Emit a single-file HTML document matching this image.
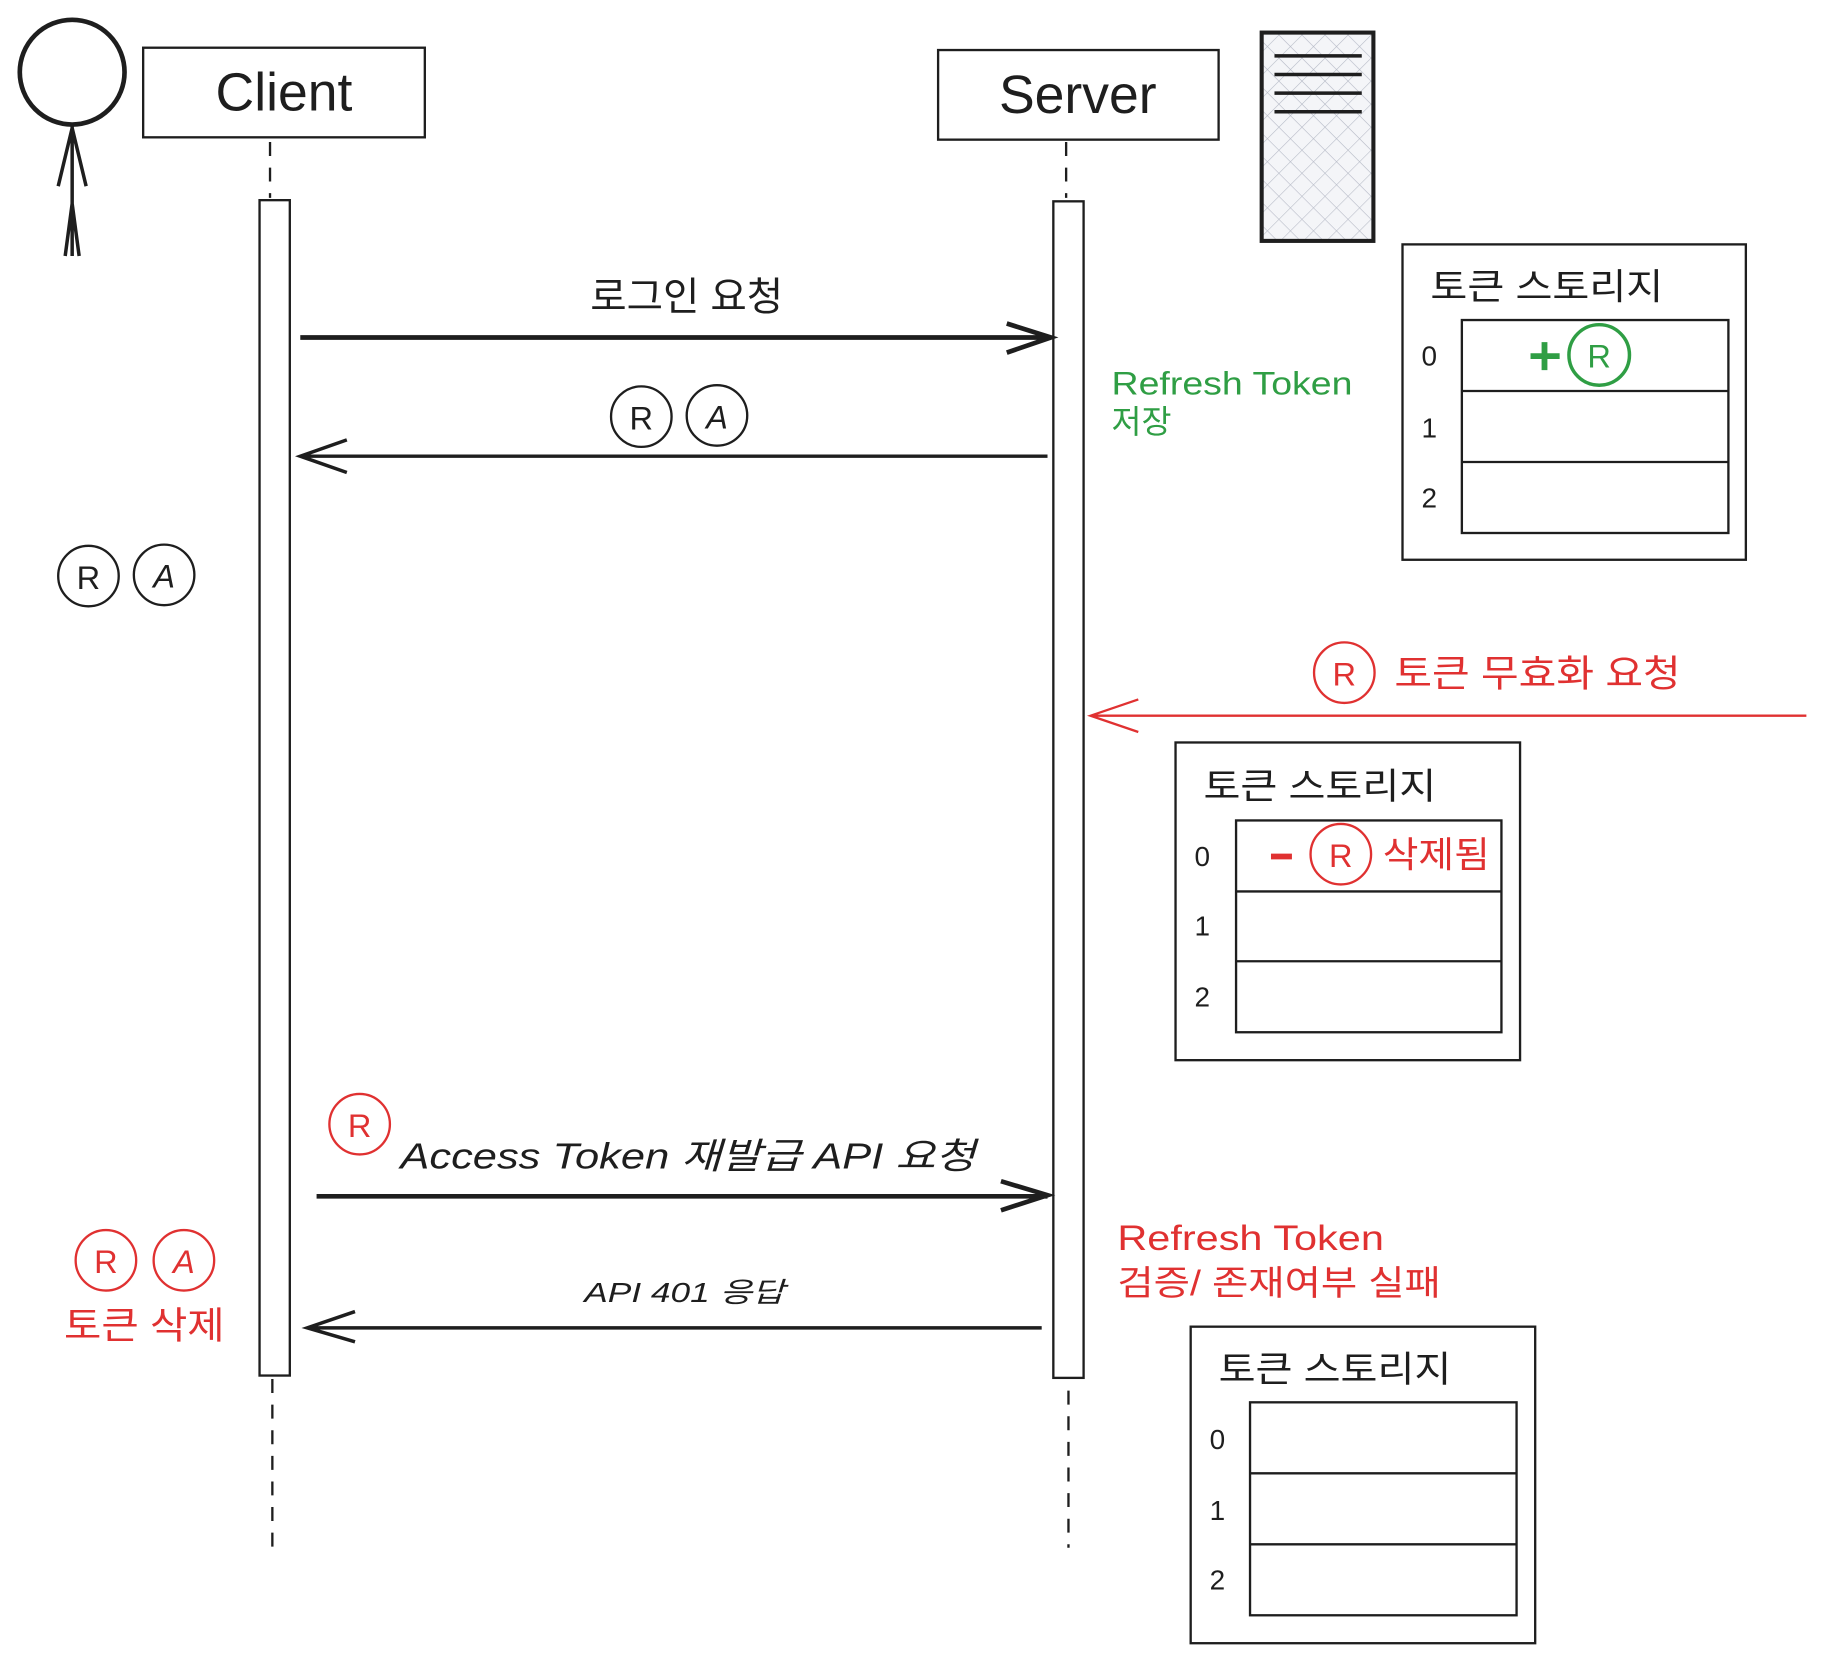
<!DOCTYPE html>
<html><head><meta charset="utf-8"><style>
html,body{margin:0;padding:0;background:#fff;}
svg{display:block;}
text{font-family:"Liberation Sans","Noto Sans CJK KR",sans-serif;}
</style></head><body>
<svg width="1825" height="1663" viewBox="0 0 1568 1429" preserveAspectRatio="none" xmlns="http://www.w3.org/2000/svg">
<defs>
<pattern id="h" width="14" height="14" patternUnits="userSpaceOnUse" patternTransform="rotate(45)">
<rect width="14" height="14" fill="#f4f5f8"/>
<line x1="0" y1="0" x2="0" y2="14" stroke="#b8bcc8" stroke-width="1"/>
<line x1="0" y1="0" x2="14" y2="0" stroke="#b8bcc8" stroke-width="1"/>
</pattern>
</defs>
<rect width="1568" height="1429" fill="#fff"/>
<g stroke="#1e1e1e" fill="none" stroke-width="2">
<circle cx="62" cy="62" r="45" stroke-width="4"/>
<path d="M62 107 L62 220 M62 110 L50 160 M62 110 L74 160 M62 175 L56 220 M62 175 L68 220" stroke-width="3"/>
<rect x="123" y="41" width="242" height="77"/>
<rect x="806" y="43" width="241" height="77"/>
<rect x="1084" y="28" width="96" height="179" fill="url(#h)" stroke-width="3.5"/>
<path d="M1095 48H1170M1095 64H1170M1095 80H1170M1095 96H1170" stroke-width="3"/>
<path d="M232 122V170M234 1185V1335M916 122V170M918 1195V1330" stroke-dasharray="12 10"/>
<rect x="223" y="172" width="26" height="1010" fill="#fff"/>
<rect x="905" y="173" width="26" height="1011" fill="#fff"/>
<path d="M258 290H903M865 278L903 290L865 303" stroke-width="4"/>
<path d="M900 392H258M298 378L258 392L298 406" stroke-width="3"/>
<path d="M272 1028H900M860 1015L900 1027L860 1040" stroke-width="4"/>
<path d="M895 1141H264M305 1127L264 1141L305 1153" stroke-width="3"/>
<path d="M1552 615H937M978 601L937 615L978 629" stroke="#e03131" stroke-width="2"/>
<circle cx="551" cy="358" r="26"/><circle cx="616" cy="357" r="26"/>
<circle cx="76" cy="495" r="26"/><circle cx="141" cy="494" r="26"/>
<circle cx="1374" cy="305" r="26" stroke="#2f9e44" stroke-width="3"/>
<circle cx="1155" cy="578" r="26" stroke="#e03131"/>
<circle cx="1152" cy="734" r="26" stroke="#e03131"/>
<circle cx="309" cy="966" r="26" stroke="#e03131"/>
<circle cx="91" cy="1083" r="26" stroke="#e03131"/><circle cx="158" cy="1083" r="26" stroke="#e03131"/>
<rect x="1205" y="210" width="295" height="271"/>
<rect x="1256" y="275" width="229" height="183"/>
<path d="M1256 336H1485M1256 397H1485"/>
<rect x="1010" y="638" width="296" height="273"/>
<rect x="1062" y="705" width="228" height="182"/>
<path d="M1062 766H1290M1062 826H1290"/>
<rect x="1023" y="1140" width="296" height="272"/>
<rect x="1074" y="1205" width="229" height="183"/>
<path d="M1074 1266H1303M1074 1327H1303"/>
<path d="M1315 306H1340M1327 294V318" stroke="#2f9e44" stroke-width="5"/>
<path d="M1092 736H1110" stroke="#e03131" stroke-width="5"/>
</g>
<g fill="#1e1e1e" text-anchor="middle">
<text x="244" y="95" font-size="46">Client</text>
<text x="926" y="97" font-size="46">Server</text>
<text x="590" y="267" font-size="34">로그인 요청</text>
<text x="551" y="369" font-size="28">R</text><text x="616" y="368" font-size="28" font-style="italic">A</text>
<text x="76" y="506" font-size="28">R</text><text x="141" y="505" font-size="28" font-style="italic">A</text>
</g>
<text x="502" y="1119" font-size="24" font-style="italic" fill="#1e1e1e" textLength="172" lengthAdjust="spacingAndGlyphs">API 401 응답</text>
<g fill="#1e1e1e" font-size="31">
<text x="1229" y="257" textLength="200" lengthAdjust="spacingAndGlyphs">토큰 스토리지</text>
<text x="1034" y="686" textLength="200" lengthAdjust="spacingAndGlyphs">토큰 스토리지</text>
<text x="1047" y="1187" textLength="200" lengthAdjust="spacingAndGlyphs">토큰 스토리지</text>
<text x="344" y="1004" font-style="italic" textLength="494" lengthAdjust="spacingAndGlyphs">Access Token 재발급 API 요청</text>
</g>
<g fill="#1e1e1e" font-size="24" text-anchor="middle">
<text x="1228" y="314">0</text><text x="1228" y="376">1</text><text x="1228" y="436">2</text>
<text x="1033" y="744">0</text><text x="1033" y="804">1</text><text x="1033" y="865">2</text>
<text x="1046" y="1245">0</text><text x="1046" y="1306">1</text><text x="1046" y="1366">2</text>
</g>
<g fill="#2f9e44">
<text x="955" y="339" font-size="28" textLength="207" lengthAdjust="spacingAndGlyphs">Refresh Token</text>
<text x="955" y="372" font-size="28">저장</text>
<text x="1374" y="316" font-size="28" text-anchor="middle">R</text>
</g>
<g fill="#e03131">
<text x="1155" y="589" font-size="28" text-anchor="middle">R</text>
<text x="1198" y="590" font-size="32" textLength="246" lengthAdjust="spacingAndGlyphs">토큰 무효화 요청</text>
<text x="1152" y="745" font-size="28" text-anchor="middle">R</text>
<text x="1188" y="745" font-size="31" textLength="92" lengthAdjust="spacingAndGlyphs">삭제됨</text>
<text x="309" y="977" font-size="28" text-anchor="middle">R</text>
<text x="960" y="1074" font-size="30" textLength="229" lengthAdjust="spacingAndGlyphs">Refresh Token</text>
<text x="960" y="1113" font-size="30" textLength="278" lengthAdjust="spacingAndGlyphs">검증/ 존재여부 실패</text>
<text x="91" y="1094" font-size="28" text-anchor="middle">R</text>
<text x="158" y="1094" font-size="28" text-anchor="middle" font-style="italic">A</text>
<text x="55" y="1150" font-size="32" textLength="138" lengthAdjust="spacingAndGlyphs">토큰 삭제</text>
</g>
</svg>
</body></html>
